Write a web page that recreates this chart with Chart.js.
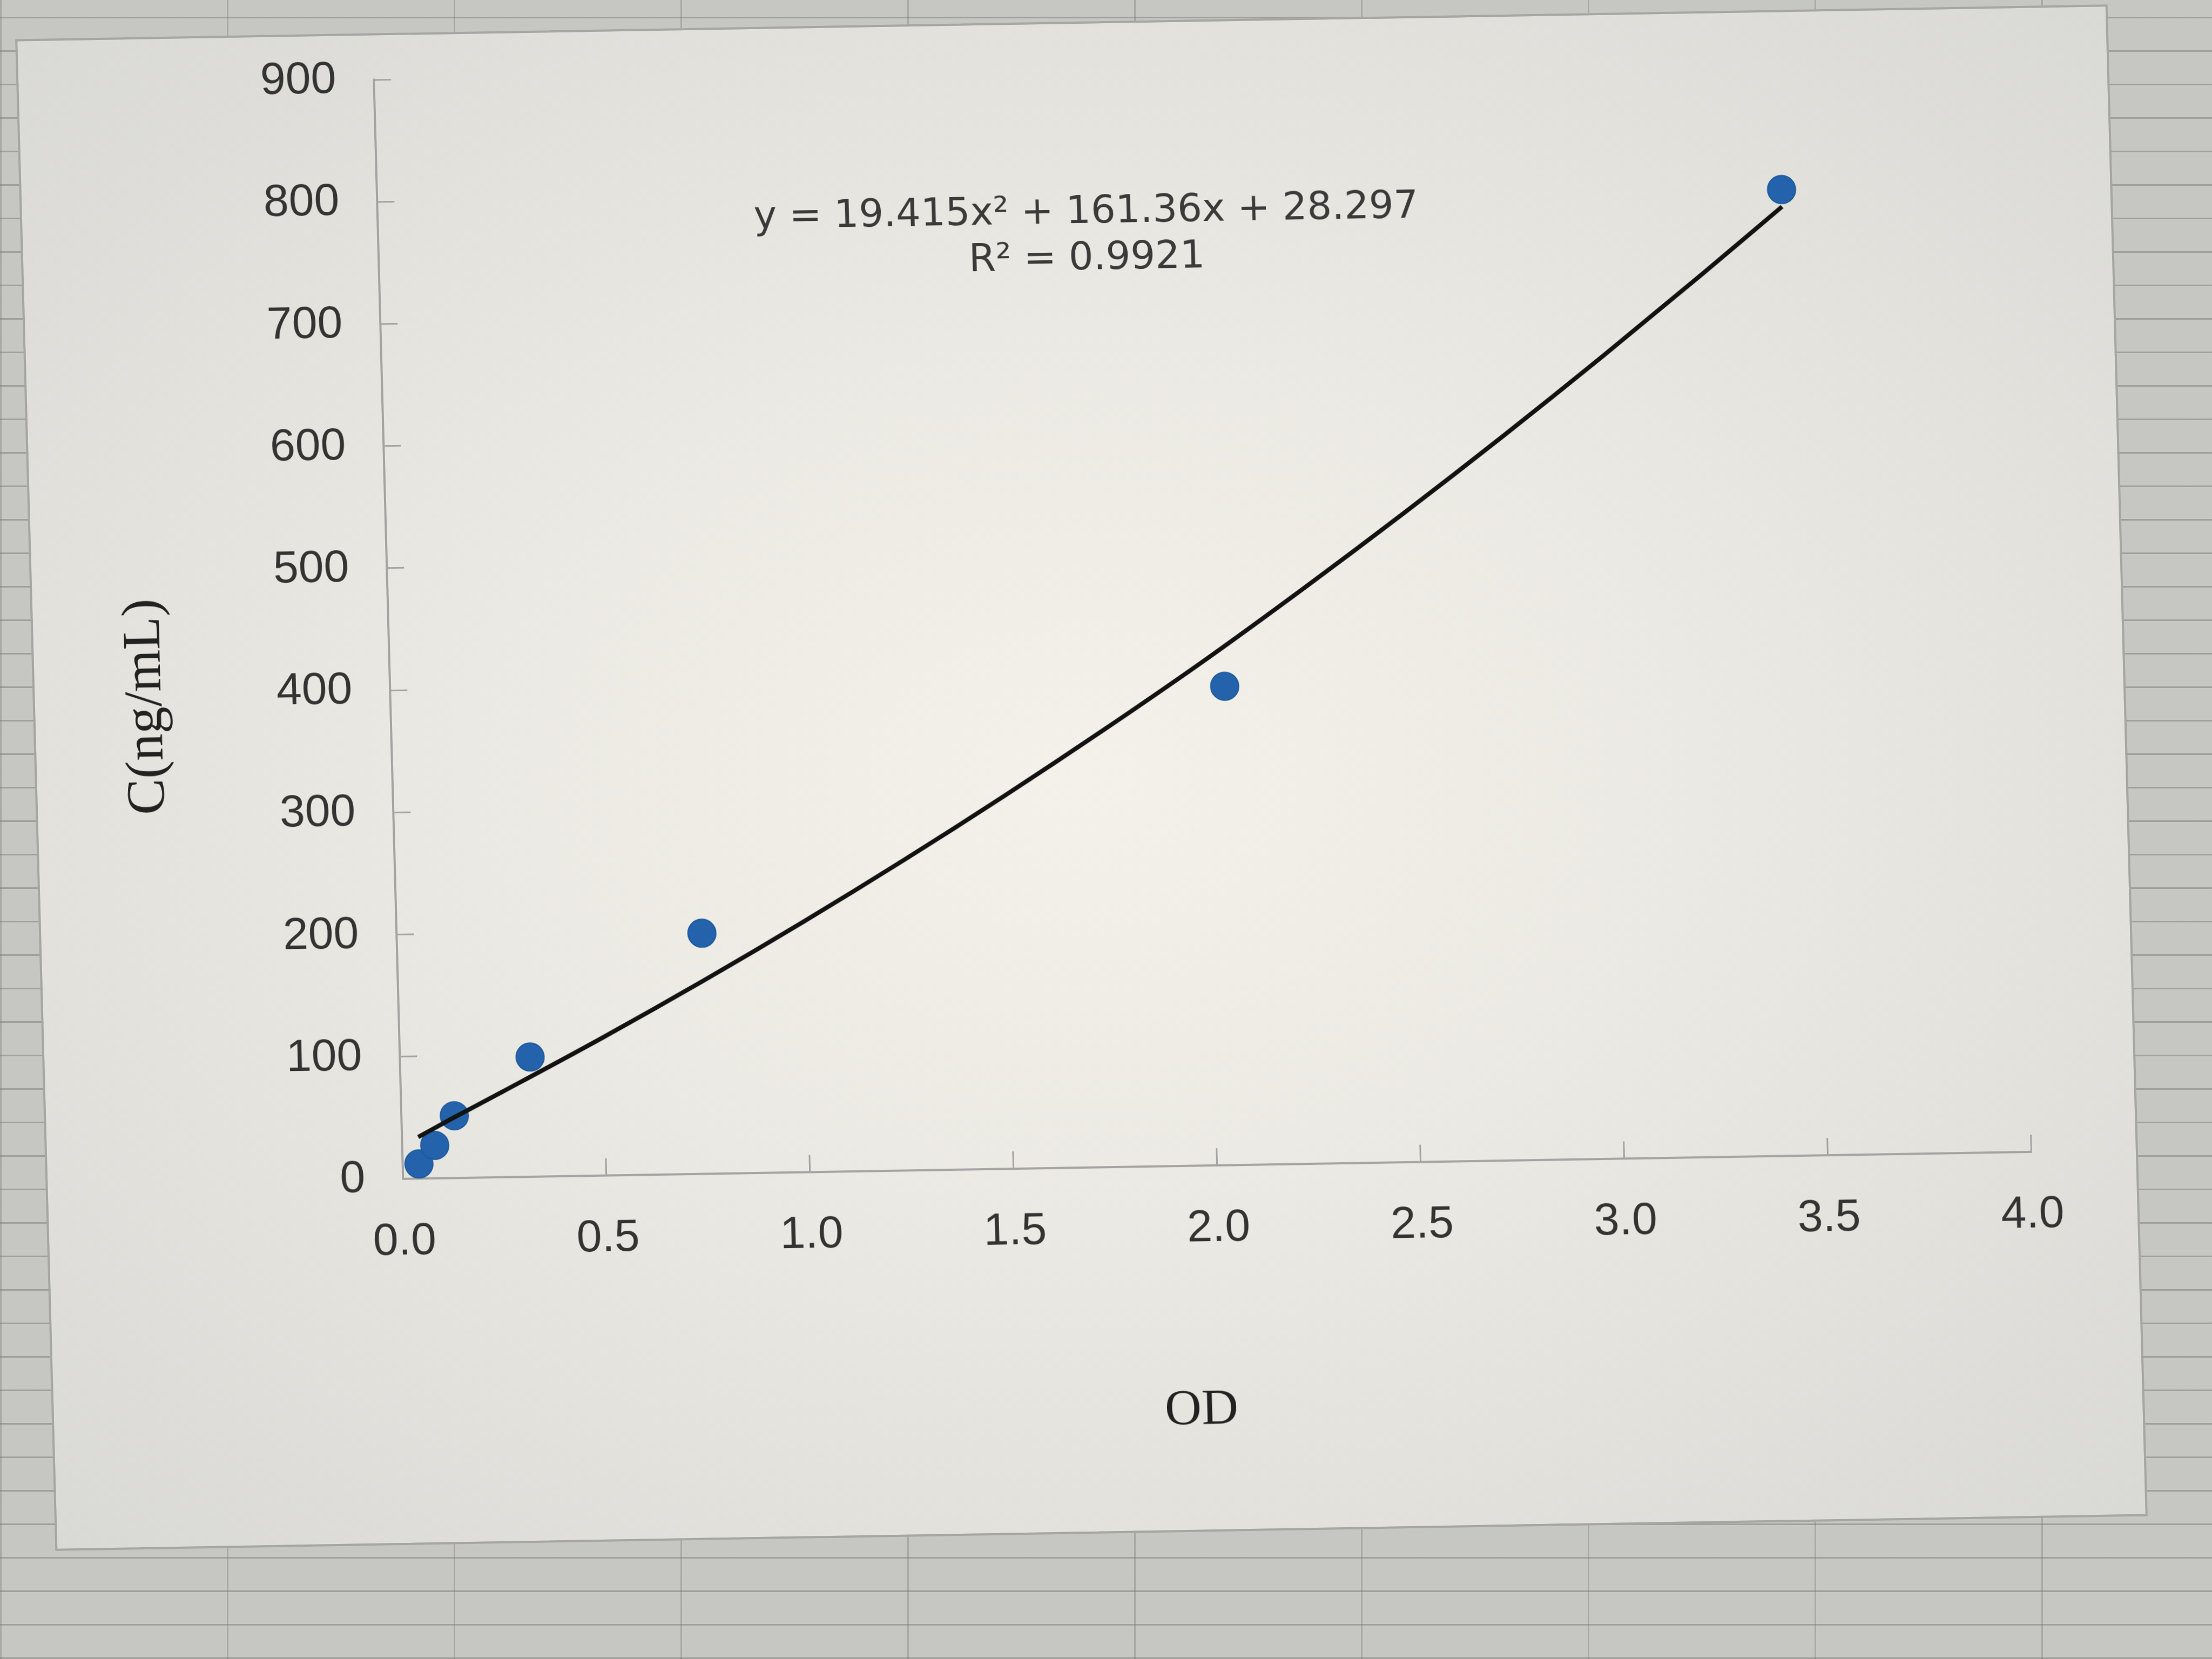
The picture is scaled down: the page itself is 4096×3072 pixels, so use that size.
<!DOCTYPE html>
<html>
<head>
<meta charset="utf-8">
<script src="https://cdn.jsdelivr.net/npm/chart.js@4.4.1/dist/chart.umd.min.js"></script>
<style>
  html, body { margin: 0; padding: 0; }
  body {
    width: 4096px; height: 3072px; overflow: hidden; position: relative;
    background-color: #c6c7c2;
    background-image:
      repeating-linear-gradient(0deg, rgba(115,115,110,.45) 0 3px, transparent 3px 62px),
      repeating-linear-gradient(90deg, rgba(115,115,110,.35) 0 3px, transparent 3px 420px);
  }
  #box {
    position: absolute; left: 65px; top: 40px; width: 3875px; height: 2800px;
    background: radial-gradient(ellipse at 50% 50%, #f4f1ea 0%, #ebe9e3 42%, #d9d9d5 100%);
    border: 4px solid #a6a7a3;
    box-sizing: border-box;
    /* the photo is slightly tilted and sheared */
    transform: rotate(-0.95deg) skewX(0.57deg);
    transform-origin: 50% 50%;
  }
  canvas { position: absolute; left: 0; top: 0; }
</style>
</head>
<body>
<div id="box"><canvas id="chart" width="3867" height="2792"></canvas></div>
<script>
// measured OD / concentration points
const odValues = [0.04, 0.08, 0.13, 0.32, 0.75, 2.05, 3.45];
const concValues = [12, 27, 51, 98, 197, 392, 791];

// trendline as it runs on the picture
const trendX = [0.04, 0.12, 0.25, 0.5, 0.75, 1.0, 1.25, 1.5, 1.75, 2.0, 2.25, 2.5, 2.75, 3.0, 3.25, 3.45];
const trendY = [34, 48, 70, 113, 158, 205, 254, 305, 358, 413, 471, 531, 593, 657, 723, 777];

const equationLines = ['y = 19.415x\u00b2 + 161.36x + 28.297', 'R\u00b2 = 0.9921'];
const xTitle = 'OD';
const yTitle = 'C(ng/mL)';

const toPoints = (xs, ys) => xs.map((x, i) => ({ x, y: ys[i] }));

const chartTexts = {
  id: 'chartTexts',
  afterDraw(chart) {
    const { ctx } = chart;
    ctx.save();
    ctx.textAlign = 'center';
    ctx.textBaseline = 'middle';

    ctx.font = '72px "DejaVu Sans"';
    ctx.fillStyle = '#3a3a3a';
    ctx.fillText(equationLines[0], 1970, 350);
    ctx.fillText(equationLines[1], 1969, 436);

    ctx.fillStyle = '#222222';
    ctx.font = '94px "Liberation Serif"';
    ctx.fillText(xTitle, 2125, 2571);

    ctx.translate(207, 1236);
    ctx.rotate(-Math.PI / 2);
    ctx.font = '100px "Liberation Serif"';
    ctx.fillText(yTitle, 0, 0);
    ctx.restore();
  }
};

const axisGrid = { drawOnChartArea: false, drawTicks: true, tickLength: -32, color: '#a4a4a4', lineWidth: 3 };
const tickFont = { family: 'Liberation Sans', size: 84 };

new Chart(document.getElementById('chart'), {
  type: 'scatter',
  data: {
    datasets: [
      {
        label: 'Trend',
        data: toPoints(trendX, trendY),
        showLine: true,
        borderColor: '#121212',
        borderWidth: 8,
        pointRadius: 0,
        cubicInterpolationMode: 'monotone',
        order: 0
      },
      {
        label: 'C',
        data: toPoints(odValues, concValues),
        backgroundColor: '#2463ab',
        borderColor: '#1d5a9c',
        borderWidth: 2,
        pointRadius: 26,
        order: 1
      }
    ]
  },
  options: {
    responsive: false,
    devicePixelRatio: 1,
    animation: false,
    layout: { padding: { left: 0, right: 194, top: 82, bottom: 0 } },
    plugins: {
      legend: { display: false },
      tooltip: { enabled: false }
    },
    scales: {
      x: {
        type: 'linear',
        min: 0,
        max: 4,
        afterFit: scale => {
          scale.height = 674;
          scale.paddingLeft = 0;
          scale.paddingRight = 0;
        },
        ticks: {
          stepSize: 0.5,
          padding: 98,
          color: '#333333',
          font: tickFont,
          callback: value => value.toFixed(1)
        },
        grid: axisGrid,
        border: { color: '#a4a4a4', width: 4 }
      },
      y: {
        type: 'linear',
        min: 0,
        max: 900,
        afterFit: scale => {
          scale.width = 658;
          scale.paddingTop = 0;
          scale.paddingBottom = 0;
        },
        ticks: {
          stepSize: 100,
          padding: 102,
          color: '#333333',
          font: tickFont
        },
        grid: axisGrid,
        border: { color: '#a4a4a4', width: 4 }
      }
    }
  },
  plugins: [chartTexts]
});
</script>
</body>
</html>
